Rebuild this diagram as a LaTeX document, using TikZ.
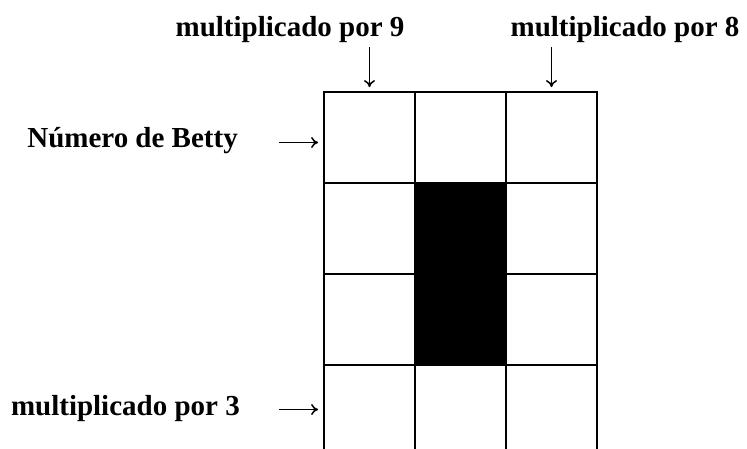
\documentclass[tikz,border=0pt]{standalone}
\usepackage{fontspec}
\setmainfont{Liberation Serif}
\usetikzlibrary{positioning}
\usetikzlibrary{arrows.meta}

\begin{document}
\begin{tikzpicture}[x=1pt, y=-1pt,
	cell/.style={draw, line width=1.8pt, minimum size=91pt, inner sep=0pt},
	lbl/.style={font=\fontsize{29}{34}\selectfont\bfseries, inner sep=0pt},
	pointer/.style={-{To[length=7pt, width=11pt]}, line width=1.5pt}]
	\useasboundingbox (0,0) rectangle (747,449);
	\clip (0,0) rectangle (747,449);
	% grid of cells, the last row runs off the page
	\foreach \r in {1,...,4}
	  \foreach \c in {1,...,3}
	    \node[cell] (c\r\c) at ({278.5+91*\c}, {46.5+91*\r}) {};
	\fill[black] (c22.north west) rectangle (c32.south east);
	% labels
	\node[lbl, anchor=base] (m9) at (290,37) {multiplicado por 9};
	\node[lbl, anchor=base] (m8) at (625,37) {multiplicado por 8};
	\node[lbl, anchor=base east] (betty) at (238,148) {Número de Betty};
	\node[lbl, anchor=base east] (m3) at (240,415) {multiplicado por 3};
	% arrows
	\draw[pointer] ([yshift=44pt]c11.north) -- ([yshift=4pt]c11.north);
	\draw[pointer] ([yshift=44pt]c13.north) -- ([yshift=4pt]c13.north);
	\draw[pointer] ([xshift=-44pt, yshift=-5pt]c11.west) -- ([xshift=-5pt, yshift=-5pt]c11.west);
	\draw[pointer] ([xshift=-44pt, yshift=1pt]c41.west) -- ([xshift=-5pt, yshift=1pt]c41.west);
\end{tikzpicture}
\end{document}
